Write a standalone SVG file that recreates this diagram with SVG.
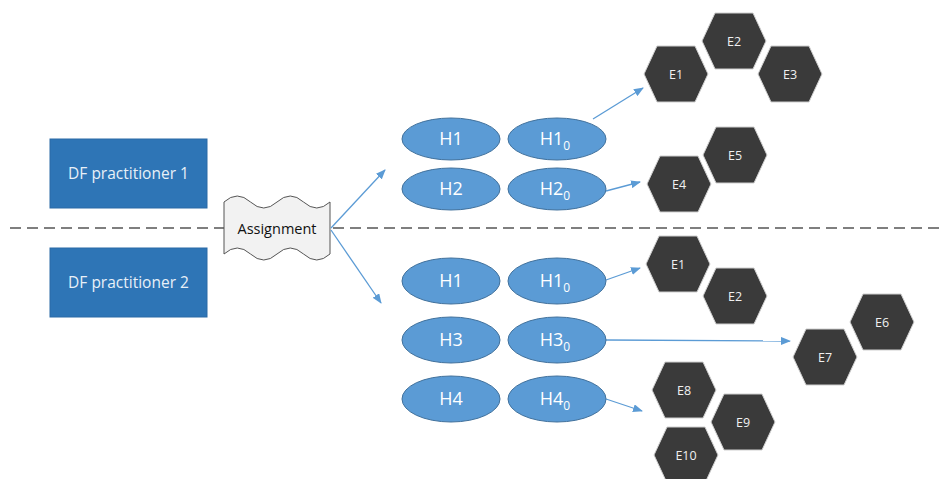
<svg xmlns="http://www.w3.org/2000/svg" width="939" height="479" viewBox="0 0 939 479">
<defs>
<marker id="ah" markerWidth="10" markerHeight="8" refX="9" refY="4" orient="auto" markerUnits="userSpaceOnUse">
<path d="M0,0 L10,4 L0,8 Z" fill="#5b9bd5"/>
</marker>
<polygon id="hex" points="-32,0 -19,-28 19,-28 32,0 19,28 -19,28"/>
</defs>
<style>
.box{fill:#2e75b6;stroke:#2a6aa6;stroke-width:1}
.boxt{font-family:"Open Sans","Liberation Sans",sans-serif;font-size:15.5px;fill:#e8f0f8;text-anchor:middle}
.ell{fill:#5b9bd5;stroke:#41719c;stroke-width:1}
.ellt{font-family:"Open Sans","Liberation Sans",sans-serif;font-size:18px;fill:#ffffff;text-anchor:middle}
.hexs{fill:#3a3a3a;stroke:#cfcfcf;stroke-width:1}
.hext{font-family:"Open Sans","Liberation Sans",sans-serif;font-size:12.5px;fill:#f0f0f0;text-anchor:middle}
.conn{stroke:#5b9bd5;stroke-width:1.3;fill:none;marker-end:url(#ah)}
</style>
<rect width="939" height="479" fill="#ffffff"/>
<line x1="10" y1="228" x2="939" y2="228" stroke="#7f7f7f" stroke-width="2" stroke-dasharray="11 6"/>
<g id="dfp1"><rect class="box" x="50" y="139" width="157" height="69"/><text class="boxt" x="128.5" y="179">DF practitioner 1</text></g>
<g id="dfp2"><rect class="box" x="50" y="248" width="157" height="69"/><text class="boxt" x="128.5" y="288">DF practitioner 2</text></g>
<g id="assignment"><path d="M224,202 q13.25,-12 26.5,0 t26.5,0 t26.5,0 t26.5,0 L330,254 q-13.25,12 -26.5,0 t-26.5,0 t-26.5,0 t-26.5,0 Z" fill="#f2f2f2" stroke="#555555" stroke-width="1"/><text x="277" y="234" font-family="'Open Sans','Liberation Sans',sans-serif" font-size="14.5px" fill="#111111" text-anchor="middle">Assignment</text></g>
<g id="connectors">
<line class="conn" x1="331" y1="228" x2="385" y2="170"/>
<line class="conn" x1="331" y1="230" x2="381" y2="303"/>
<line class="conn" x1="593" y1="119" x2="643" y2="88"/>
<line class="conn" x1="606" y1="191" x2="640" y2="182"/>
<line class="conn" x1="606" y1="280" x2="640" y2="268"/>
<line class="conn" x1="606" y1="340" x2="790" y2="341"/>
<line class="conn" x1="606" y1="399" x2="642" y2="411"/>
</g>
<g id="u_h1"><ellipse class="ell" cx="451" cy="139" rx="49" ry="21"/><text class="ellt" x="451" y="145">H1</text></g>
<g id="u_h10"><ellipse class="ell" cx="557" cy="139" rx="49" ry="21"/><text class="ellt" x="555" y="145">H1<tspan font-size="12px" dy="5">0</tspan></text></g>
<g id="u_h2"><ellipse class="ell" cx="451" cy="189" rx="49" ry="21"/><text class="ellt" x="451" y="195">H2</text></g>
<g id="u_h20"><ellipse class="ell" cx="557" cy="189" rx="49" ry="21"/><text class="ellt" x="555" y="195">H2<tspan font-size="12px" dy="5">0</tspan></text></g>
<g id="l_h1"><ellipse class="ell" cx="451" cy="281" rx="49" ry="23"/><text class="ellt" x="451" y="287">H1</text></g>
<g id="l_h10"><ellipse class="ell" cx="557" cy="281" rx="49" ry="23"/><text class="ellt" x="555" y="287">H1<tspan font-size="12px" dy="5">0</tspan></text></g>
<g id="l_h3"><ellipse class="ell" cx="451" cy="340" rx="49" ry="23"/><text class="ellt" x="451" y="346">H3</text></g>
<g id="l_h30"><ellipse class="ell" cx="557" cy="340" rx="49" ry="23"/><text class="ellt" x="555" y="346">H3<tspan font-size="12px" dy="5">0</tspan></text></g>
<g id="l_h4"><ellipse class="ell" cx="451" cy="399" rx="49" ry="23"/><text class="ellt" x="451" y="405">H4</text></g>
<g id="l_h40"><ellipse class="ell" cx="557" cy="399" rx="49" ry="23"/><text class="ellt" x="555" y="405">H4<tspan font-size="12px" dy="5">0</tspan></text></g>
<g id="u_e1"><use href="#hex" class="hexs" x="676" y="74"/><text class="hext" x="676" y="79">E1</text></g>
<g id="u_e2"><use href="#hex" class="hexs" x="734" y="41"/><text class="hext" x="734" y="46">E2</text></g>
<g id="u_e3"><use href="#hex" class="hexs" x="790" y="74"/><text class="hext" x="790" y="79">E3</text></g>
<g id="u_e4"><use href="#hex" class="hexs" x="679" y="184"/><text class="hext" x="679" y="189">E4</text></g>
<g id="u_e5"><use href="#hex" class="hexs" x="735" y="155"/><text class="hext" x="735" y="160">E5</text></g>
<g id="l_e1"><use href="#hex" class="hexs" x="678" y="264"/><text class="hext" x="678" y="269">E1</text></g>
<g id="l_e2"><use href="#hex" class="hexs" x="735" y="296"/><text class="hext" x="735" y="301">E2</text></g>
<g id="l_e6"><use href="#hex" class="hexs" x="882" y="322"/><text class="hext" x="882" y="327">E6</text></g>
<g id="l_e7"><use href="#hex" class="hexs" x="825" y="357"/><text class="hext" x="825" y="362">E7</text></g>
<g id="l_e8"><use href="#hex" class="hexs" x="684" y="390"/><text class="hext" x="684" y="395">E8</text></g>
<g id="l_e9"><use href="#hex" class="hexs" x="743" y="422"/><text class="hext" x="743" y="427">E9</text></g>
<g id="l_e10"><use href="#hex" class="hexs" x="686" y="455"/><text class="hext" x="686" y="460">E10</text></g>
</svg>
